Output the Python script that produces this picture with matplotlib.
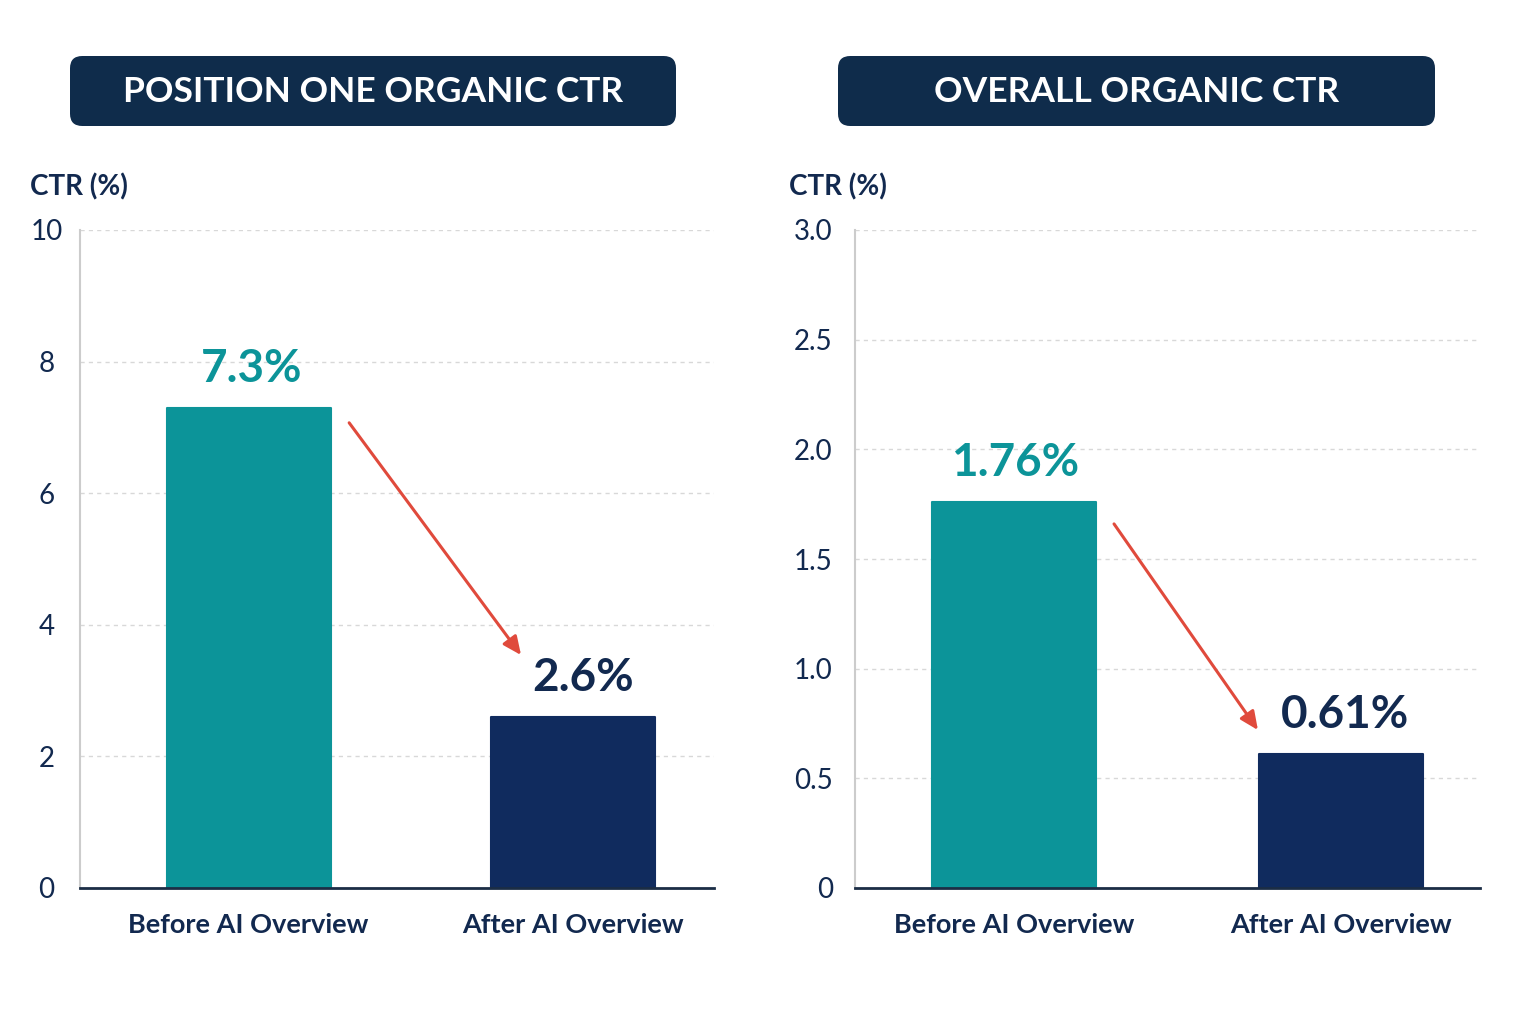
import matplotlib
matplotlib.use("Agg")
import matplotlib.pyplot as plt
from matplotlib.patches import FancyBboxPatch

plt.rcParams['font.family'] = ['Lato', 'DejaVu Sans']

# ---- data ----
categories = ["Before AI Overview", "After AI Overview"]
titles = ["POSITION ONE ORGANIC CTR", "OVERALL ORGANIC CTR"]
left_values = [7.3, 2.6]
right_values = [1.76, 0.61]
left_labels = ["7.3%", "2.6%"]
right_labels = ["1.76%", "0.61%"]
left_ticks = [0, 2, 4, 6, 8, 10]
left_ticklabels = ["0", "2", "4", "6", "8", "10"]
right_ticks = [0, 0.5, 1.0, 1.5, 2.0, 2.5, 3.0]
right_ticklabels = ["0", "0.5", "1.0", "1.5", "2.0", "2.5", "3.0"]
y_label = "CTR (%)"

TEAL = "#0c9499"
NAVY_BAR = "#102b5e"
NAVY_TXT = "#12294f"
BOX = "#0f2c4b"
RED = "#e04a3c"
GRID = "#d8d8d8"

W, H = 1536, 1024
fig = plt.figure(figsize=(W / 100, H / 100), dpi=100)
fig.patch.set_facecolor("white")


def fx(px):
    return px / W


def fy(py):
    return 1 - py / H


panels = [
    dict(ax=(80, 714), vals=left_values, labs=left_labels, ticks=left_ticks,
         tl=left_ticklabels, ylim=10, xlim=(-0.52, 1.435), title=titles[0],
         box=(70, 676), arrow=((0.31, -0.23), (0.84, 0.94)), ha="center", pad=24,
         lab_dx=(2, 7), ylab_x=30, width=0.505),
    dict(ax=(855, 1480), vals=right_values, labs=right_labels, ticks=right_ticks,
         tl=right_ticklabels, ylim=3.0, xlim=(-0.486, 1.425), title=titles[1],
         box=(838, 1435), arrow=((0.306, -0.10), (0.746, 0.11)), ha="right", pad=16,
         lab_dx=(1, 3), ylab_x=789, width=0.50),
]

for p in panels:
    x0, x1 = p["ax"]
    ax = fig.add_axes([fx(x0), fy(888), fx(x1 - x0), (888 - 230) / H])
    ax.set_xlim(*p["xlim"])
    ax.set_ylim(0, p["ylim"])
    xs = list(range(len(categories)))
    ax.bar(xs, p["vals"], width=p["width"], color=[TEAL, NAVY_BAR],
           edgecolor=[TEAL, NAVY_BAR], linewidth=1.5, joinstyle="round", zorder=3)
    # grid
    for t in p["ticks"][1:]:
        ax.axhline(t, color=GRID, lw=1.0, ls=(0, (3, 3)), zorder=1)
    ax.set_yticks(p["ticks"])
    ax.set_yticklabels(p["tl"], fontsize=20, color=NAVY_TXT, ha=p["ha"])
    ax.tick_params(axis="y", length=0, pad=p["pad"])
    ax.set_xticks(xs)
    ax.set_xticklabels(categories, fontsize=19.5, fontweight="bold", color=NAVY_TXT)
    ax.tick_params(axis="x", length=0, pad=18)
    for s in ["top", "right"]:
        ax.spines[s].set_visible(False)
    ax.spines["left"].set_color("#cccccc")
    ax.spines["left"].set_linewidth(1.5)
    ax.spines["bottom"].set_color("#1b2d45")
    ax.spines["bottom"].set_linewidth(2)
    ax.spines["bottom"].set_zorder(4)
    # value labels
    for i, (v, lab) in enumerate(zip(p["vals"], p["labs"])):
        ax.annotate(lab, (i, v), xytext=(p["lab_dx"][i], 13), textcoords="offset points",
                    ha="center", va="bottom", fontsize=33, fontweight="bold",
                    color=TEAL if i == 0 else NAVY_TXT, zorder=5)
    # arrow
    (sx, sdy), (ex, edy) = p["arrow"]
    ax.annotate("", xy=(ex, p["vals"][1] + edy), xytext=(sx, p["vals"][0] + sdy),
                arrowprops=dict(arrowstyle="-|>,head_length=1.1,head_width=0.5",
                                color=RED, lw=2.2, shrinkA=0, shrinkB=0), zorder=6)
    # y label
    fig.text(fx(p["ylab_x"]), fy(187), y_label, fontsize=20, fontweight="bold",
             color=NAVY_TXT, ha="left", va="center")
    # title box
    bx0, bx1 = p["box"]
    fig.patches.append(FancyBboxPatch((fx(bx0), fy(126)), fx(bx1 - bx0), (126 - 56) / H,
                                      boxstyle="round,pad=0,rounding_size=0.008",
                                      transform=fig.transFigure, facecolor=BOX,
                                      edgecolor="none", mutation_aspect=W / H))
    fig.text(fx((bx0 + bx1) / 2), fy(92), p["title"], fontsize=25.5, fontweight="bold",
             color="white", ha="center", va="center")

fig.savefig("out.png", dpi=100, facecolor="white")
